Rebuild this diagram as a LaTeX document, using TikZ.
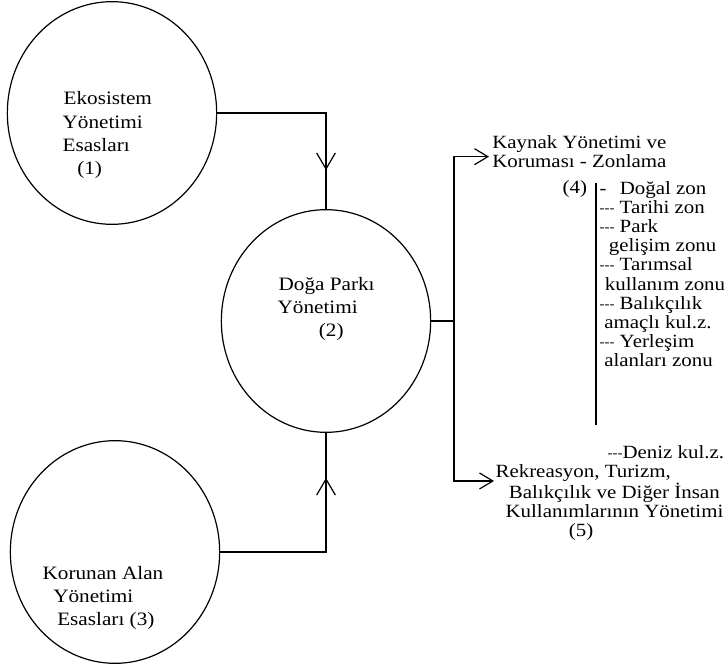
\documentclass[tikz,border=0pt]{standalone}
\usepackage{fontspec}
\setmainfont{Liberation Serif}[FakeStretch=1.12]
\usetikzlibrary{shapes.geometric,arrows.meta,decorations.markings}

\newcommand{\zdash}{\raisebox{0.8pt}{\fontsize{10}{10}\selectfont -{}-{}-}}

\tikzset{
  ring/.style={ellipse, draw, minimum width=157pt, minimum height=167pt, inner sep=0pt},
  circtext/.style={align=left, anchor=base west, inner sep=0pt,
                   font=\fontsize{14.2}{17.6}\selectfont},
  listtext/.style={align=left, anchor=base west, inner sep=0pt,
                   font=\fontsize{14}{14.4}\selectfont},
  midbarb/.style={decoration={markings,
                  mark=at position #1 with {\arrow{Straight Barb[length=12pt,width=14pt]}}},
                  postaction=decorate},
}

\begin{document}
\begin{tikzpicture}[x=0.75pt, y=-0.75pt, line width=0.9pt,
                    >={Straight Barb[length=10pt,width=12pt]}]
  \fill[white] (0,0) rectangle (726,670);
  \useasboundingbox (0,0) rectangle (726,670);

  %--- the three circles
  \node[ring] (eko) at (112,113) {};
  \node[ring] (doga) at (326,321) {};
  \node[ring] (korunan) at (115,552) {};

  % (base anchor = baseline of the last line)
  \node[circtext] (ekotxt) at (62,175)
    {\hspace*{0.75pt}Ekosistem\\Yönetimi\\Esasları\\\hspace*{11pt}(1)};
  \node[circtext] (dogatxt) at (277,337)
    {\hspace*{0.75pt}Doğa Parkı\\Yönetimi\\\hspace*{31pt}(2)};
  \node[circtext] (korunantxt) at (42,626)
    {Korunan Alan\\\hspace*{8pt}Yönetimi\\\hspace*{11pt}Esasları (3)};

  %--- inputs into the park management
  \draw[midbarb=0.81] (eko.east) -| (doga.north);
  \draw[midbarb=0.80] (korunan.east) -| (doga.south);

  %--- right hand side texts
  \node[listtext, inner sep=2pt] (kaynak) at (489,168)
    {Kaynak Yönetimi ve\\Koruması - Zonlama};
  \node[listtext] (dort) at (562,194) {(4)};
  \node[listtext] (zonlar) at (599,367)
    {-\hspace{10pt}Doğal zon\\
     \zdash\ Tarihi zon\\
     \zdash\ Park\\
     \hspace*{7pt}gelişim zonu\\
     \zdash\ Tarımsal\\
     \hspace*{4pt}kullanım zonu\\
     \zdash\ Balıkçılık\\
     \hspace*{3.5pt}amaçlı kul.z.\\
     \zdash\ Yerleşim\\
     \hspace*{3.5pt}alanları zonu};
  \node[listtext] (deniz) at (607,459) {\zdash Deniz kul.z.};
  \node[listtext] (rekreasyon) at (495,537)
    {Rekreasyon, Turizm,\\
     \hspace*{10pt}Balıkçılık ve Diğer İnsan\\
     \hspace*{7.5pt}Kullanımlarının Yönetimi\\
     \hspace*{55pt}(5)};

  %--- outputs of the park management
  \coordinate (fork) at ([xshift=17pt]doga.east);
  \coordinate (rekin) at (494,481);
  \coordinate (listtop) at (596,183);
  \coordinate (listbot) at (596,425);
  \draw (doga.east) -- (fork);
  \draw[->] (fork) |- ([yshift=-3.5pt]kaynak.west);
  \draw[->] (fork) |- (rekin);
  \draw (listtop) -- (listbot);
\end{tikzpicture}
\end{document}
